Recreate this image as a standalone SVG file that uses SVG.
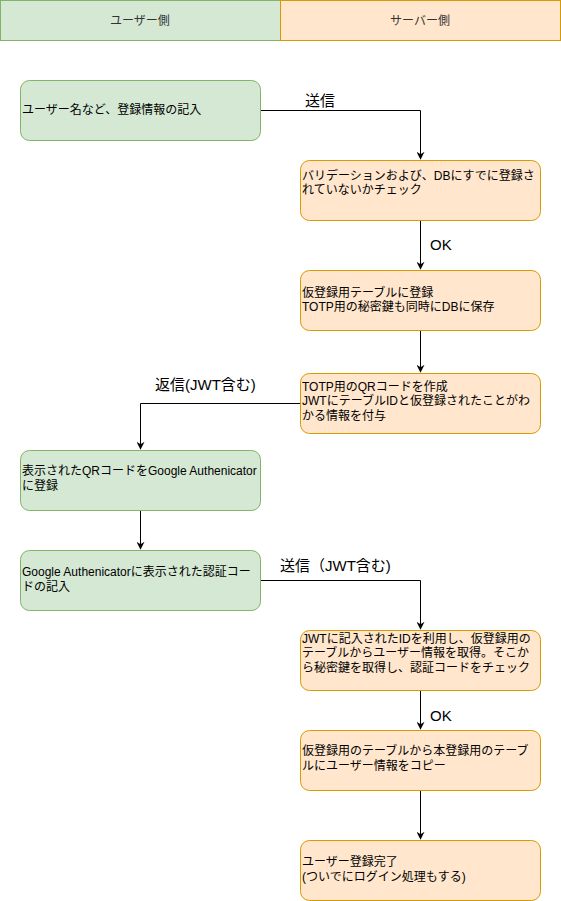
<svg xmlns="http://www.w3.org/2000/svg" width="561" height="901" viewBox="0 0 561 901">
<defs>
<style>
.u{fill:#d5e8d4;stroke:#82b366;stroke-width:1}
.s{fill:#ffe6cc;stroke:#d79b00;stroke-width:1}
.t{font-family:"Liberation Sans","Noto Sans CJK JP",sans-serif;font-size:12px;fill:#000}
.h{font-family:"Liberation Sans","Noto Sans CJK JP",sans-serif;font-size:12px;fill:#333;text-anchor:middle}
.l{font-family:"Liberation Sans","Noto Sans CJK JP",sans-serif;font-size:15px;fill:#000}
.c{fill:none;stroke:#000;stroke-width:1}
</style>
<marker id="a" viewBox="0 0 10 10" refX="9" refY="5" markerWidth="8" markerHeight="8" markerUnits="userSpaceOnUse" orient="auto">
<path d="M0,0 L10,5 L0,10 L3,5 Z" fill="#000"/>
</marker>
</defs>
<rect width="561" height="901" fill="#fff"/>
<g id="header-user"><rect class="u" x="0.5" y="0.5" width="280" height="40"/><text class="h" x="140" y="25">ユーザー側</text></g>
<g id="header-server"><rect class="s" x="280.5" y="0.5" width="280" height="40"/><text class="h" x="420" y="25">サーバー側</text></g>

<g id="connectors">
<path class="c" d="M260.5,110.5 H420.5 V159" marker-end="url(#a)"/>
<text class="l" x="305" y="106">送信</text>
<path class="c" d="M420.5,220 V269" marker-end="url(#a)"/>
<text class="l" x="430" y="250">OK</text>
<path class="c" d="M420.5,330 V372" marker-end="url(#a)"/>
<path class="c" d="M300,403.5 H140.5 V449" marker-end="url(#a)"/>
<text class="l" x="155" y="390">返信(JWT含む)</text>
<path class="c" d="M140.5,510 V549" marker-end="url(#a)"/>
<path class="c" d="M260.5,580.5 H420.5 V629" marker-end="url(#a)"/>
<text class="l" x="280" y="571">送信（JWT含む)</text>
<path class="c" d="M420.5,690 V729" marker-end="url(#a)"/>
<text class="l" x="430" y="721">OK</text>
<path class="c" d="M420.5,790 V839" marker-end="url(#a)"/>
</g>

<g id="n1"><rect class="u" x="20.5" y="80.5" width="240" height="60" rx="9"/><text class="t" x="22" y="114">ユーザー名など、登録情報の記入</text></g>
<g id="n2"><rect class="s" x="300.5" y="160.5" width="240" height="60" rx="9"/><text class="t" x="302" y="180">バリデーションおよび、DBにすでに登録さ</text><text class="t" x="302" y="194">れていないかチェック</text></g>
<g id="n3"><rect class="s" x="300.5" y="270.5" width="240" height="60" rx="9"/><text class="t" x="302" y="297">仮登録用テーブルに登録</text><text class="t" x="302" y="311">TOTP用の秘密鍵も同時にDBに保存</text></g>
<g id="n4"><rect class="s" x="300.5" y="373.5" width="240" height="60" rx="9"/><text class="t" x="302" y="391">TOTP用のQRコードを作成</text><text class="t" x="302" y="405">JWTにテーブルIDと仮登録されたことがわ</text><text class="t" x="302" y="420">かる情報を付与</text></g>
<g id="n5"><rect class="u" x="20.5" y="450.5" width="240" height="60" rx="9"/><text class="t" x="22" y="475">表示されたQRコードをGoogle Authenicator</text><text class="t" x="22" y="490">に登録</text></g>
<g id="n6"><rect class="u" x="20.5" y="550.5" width="240" height="60" rx="9"/><text class="t" x="22" y="576">Google Authenicatorに表示された認証コー</text><text class="t" x="22" y="591">ドの記入</text></g>
<g id="n7"><rect class="s" x="300.5" y="630.5" width="240" height="60" rx="9"/><text class="t" x="302" y="643">JWTに記入されたIDを利用し、仮登録用の</text><text class="t" x="302" y="657">テーブルからユーザー情報を取得。そこか</text><text class="t" x="302" y="672">ら秘密鍵を取得し、認証コードをチェック</text></g>
<g id="n8"><rect class="s" x="300.5" y="730.5" width="240" height="60" rx="9"/><text class="t" x="302" y="755">仮登録用のテーブルから本登録用のテーブ</text><text class="t" x="302" y="770">ルにユーザー情報をコピー</text></g>
<g id="n9"><rect class="s" x="300.5" y="840.5" width="240" height="60" rx="9"/><text class="t" x="302" y="866">ユーザー登録完了</text><text class="t" x="302" y="881">(ついでにログイン処理もする)</text></g>
</svg>
